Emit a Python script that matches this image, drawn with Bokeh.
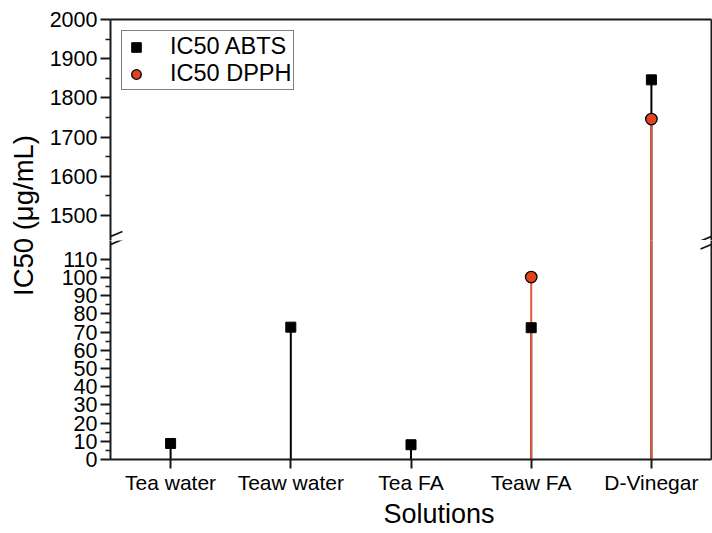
import math
from bokeh.plotting import figure
from bokeh.models import (FactorRange, Range1d, FixedTicker, Label, Legend, Title,
                          LegendItem, Arrow, ColumnDataSource, LinearAxis, CategoricalAxis)
from bokeh.layouts import row, column
from bokeh.embed import file_html
from bokeh.resources import INLINE

nan = float("nan")

# ---------------- data ----------------
categories = ["Tea water", "Teaw water", "Tea FA", "Teaw FA", "D-Vinegar"]
ic50_abts = [8.8, 72.7, 8.1, 72.4, 1846]
ic50_dpph = [nan, nan, nan, 100.2, 1746]
upper_ticks = [1500, 1600, 1700, 1800, 1900, 2000]
upper_minor = [1550, 1650, 1750, 1850, 1950]
lower_ticks = [0, 10, 20, 30, 40, 50, 60, 70, 80, 90, 100, 110]
lower_minor = [5, 15, 25, 35, 45, 55, 65, 75, 85, 95, 105]

# ---------------- layout constants ----------------
W, H = 712, 533
LBL_W = 40
FRAME_L, FRAME_R = 110, 711
FRAME_TOP, BREAK_Y, FRAME_BOT = 19, 240, 459
UP_MIN, UP_MAX = 1436, 2000
LOW_MIN, LOW_MAX = 0, 120.3
XTITLE_LEFT = 383

FONT = "Liberation Sans"
RED = "#e2431f"
RED_LINE = "#e4583c"
AX = "#1a1a1a"


def x_of(px):
    return (px - FRAME_L) / ((FRAME_R - FRAME_L) / len(categories))


def y_top(py):
    return UP_MAX - (py - FRAME_TOP) * (UP_MAX - UP_MIN) / (BREAK_Y - FRAME_TOP)


def y_bot(py):
    return LOW_MIN + (FRAME_BOT - py) * (LOW_MAX - LOW_MIN) / (FRAME_BOT - BREAK_Y)


src = ColumnDataSource(dict(cat=categories, abts=ic50_abts, dpph=ic50_dpph,
                            base=[0] * len(categories)))
x_range = FactorRange(factors=categories)


def style_yaxis(ax, ticks, minor):
    ax.ticker = FixedTicker(ticks=ticks, minor_ticks=minor)
    ax.axis_line_width = 2
    ax.axis_line_color = AX
    ax.major_tick_line_width = 2
    ax.major_tick_line_color = AX
    ax.minor_tick_line_width = 1.5
    ax.minor_tick_line_color = AX
    ax.major_tick_out = 10
    ax.major_tick_in = 0
    ax.minor_tick_out = 5
    ax.minor_tick_in = 0
    ax.major_label_standoff = 3
    ax.major_label_text_font = FONT
    ax.major_label_text_font_size = "21.5px"
    ax.major_label_text_color = "black"


def blank_axis(ax):
    ax.axis_line_width = 2
    ax.axis_line_color = AX
    ax.major_tick_line_color = None
    ax.minor_tick_line_color = None
    ax.major_tick_out = 0
    ax.major_tick_in = 0
    ax.minor_tick_out = 0
    ax.minor_tick_in = 0
    ax.major_label_standoff = 0
    ax.major_label_text_font_size = "0px"
    ax.major_label_text_alpha = 0
    return ax


def add_marks(p):
    p.segment(x0="cat", y0="base", x1="cat", y1="abts", source=src,
              line_color="black", line_width=2)
    p.segment(x0="cat", y0="base", x1="cat", y1="dpph", source=src,
              line_color=RED_LINE, line_width=2)
    sq = p.scatter("cat", "abts", source=src, marker="square", size=10,
                   fill_color="black", line_color="black")
    ci = p.scatter("cat", "dpph", source=src, marker="circle", size=11.5,
                   fill_color=RED, line_color="black", line_width=1.3)
    return sq, ci


def common(p):
    p.xgrid.visible = False
    p.ygrid.visible = False
    p.outline_line_color = None
    p.background_fill_color = "white"
    p.border_fill_color = "white"
    p.min_border_left = FRAME_L - LBL_W
    p.min_border_right = W - FRAME_R
    p.add_layout(blank_axis(LinearAxis(ticker=FixedTicker(ticks=[]))), "right")


# ---------------- top panel ----------------
p_top = figure(width=W - LBL_W, height=BREAK_Y, x_range=x_range,
               y_range=Range1d(UP_MIN, UP_MAX), x_axis_location=None,
               toolbar_location=None, output_backend="svg")
common(p_top)
p_top.min_border_top = FRAME_TOP
p_top.min_border_bottom = 0
style_yaxis(p_top.yaxis[0], upper_ticks, upper_minor)
p_top.add_layout(blank_axis(CategoricalAxis()), "above")
sq_top, ci_top = add_marks(p_top)

legend = Legend(items=[LegendItem(label="IC50 ABTS", renderers=[sq_top]),
                       LegendItem(label="IC50 DPPH", renderers=[ci_top])],
                location="top_left", margin=11, padding=2, spacing=0,
                glyph_width=24, glyph_height=24, label_height=24,
                label_standoff=22, label_text_font=FONT,
                label_text_font_size="23.5px", label_text_color="black",
                border_line_color="black", border_line_width=1.5,
                background_fill_color="white", background_fill_alpha=1)
p_top.add_layout(legend)

for xs in (99, 700):
    p_top.add_layout(Arrow(end=None, x_start=x_of(xs), y_start=y_top(240.5),
                           x_end=x_of(xs + 23), y_end=y_top(231),
                           line_color=AX, line_width=1.8))

# ---------------- bottom panel ----------------
p_bot = figure(width=W - LBL_W, height=H - BREAK_Y, x_range=x_range,
               y_range=Range1d(LOW_MIN, LOW_MAX),
               toolbar_location=None, output_backend="svg")
common(p_bot)
p_bot.min_border_top = 0
p_bot.min_border_bottom = H - FRAME_BOT
style_yaxis(p_bot.yaxis[0], lower_ticks, lower_minor)
xa = p_bot.xaxis[0]
xa.axis_line_width = 2
xa.axis_line_color = AX
xa.major_tick_line_width = 2
xa.major_tick_line_color = AX
xa.major_tick_out = 9
xa.major_tick_in = 0
xa.major_label_standoff = 2
xa.major_label_text_font = FONT
xa.major_label_text_font_size = "21px"
xa.major_label_text_color = "black"
add_marks(p_bot)

p_bot.add_layout(Title(text="Solutions", align="left", offset=XTITLE_LEFT - FRAME_L,
                       standoff=0, text_font=FONT, text_font_size="27px",
                       text_color="black", text_font_style="normal"), "below")

for xs in (99, 700):
    p_bot.add_layout(Arrow(end=None, x_start=x_of(xs), y_start=y_bot(248.5),
                           x_end=x_of(xs + 23), y_end=y_bot(239),
                           line_color=AX, line_width=1.8))

# ---------------- y-title strip ----------------
p_lbl = figure(width=LBL_W, height=H, x_range=Range1d(0, LBL_W), y_range=Range1d(0, H),
               x_axis_location=None, y_axis_location=None,
               toolbar_location=None, output_backend="svg")
p_lbl.min_border_left = 0
p_lbl.min_border_right = 0
p_lbl.min_border_top = 0
p_lbl.min_border_bottom = 0
p_lbl.outline_line_color = None
p_lbl.xgrid.visible = False
p_lbl.ygrid.visible = False
p_lbl.border_fill_color = "white"
p_lbl.background_fill_color = "white"
p_lbl.add_layout(Label(x=23, y=H - 215, text="IC50 (μg/mL)", angle=math.pi / 2,
                       text_align="center", text_baseline="middle",
                       text_font=FONT, text_font_size="27.5px", text_color="black"))

p = row(p_lbl, column(p_top, p_bot, spacing=0), spacing=0)

with open("out.html", "w") as f:
    f.write(file_html(p, INLINE))
